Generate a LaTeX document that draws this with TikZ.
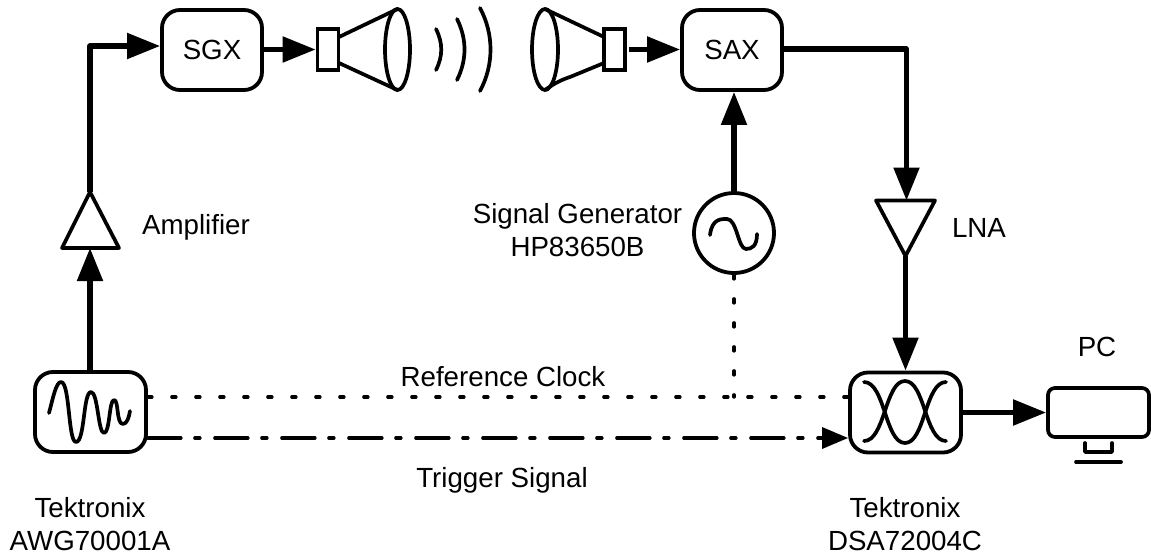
\documentclass[tikz,border=0pt]{standalone}
\usepackage{fontspec}
\setmainfont{Liberation Sans}
\usetikzlibrary{arrows.meta}
\tikzset{
  x=1pt,y=-1pt,
  lbl/.style={inner sep=0pt,align=center,font=\fontsize{27.7}{32.5}\selectfont},
  box/.style={draw,line width=3.8pt,rounded corners=18pt,minimum width=#1,minimum height=80pt,inner sep=0pt,font=\fontsize{27.7}{32}\selectfont},
  thin part/.style={line width=3.7pt,line join=round},
  conn/.style={line width=5.2pt,line join=round,-{Triangle[length=33pt,width=25pt]}},
  dotline/.style={line width=3.4pt,line cap=round,dash pattern=on 4pt off 20pt},
  dashdot/.style={line width=3.4pt,line cap=round,dash pattern=on 33pt off 14pt on 5pt off 15pt},
}
\begin{document}
\begin{tikzpicture}
\useasboundingbox (0,0) rectangle (1151,557);
% boxes
\node[box=100pt] (sgx) at (212,50) {SGX};
\node[box=100pt] (sax) at (732,50) {SAX};
\node[box=111pt] (awg) at (90.5,412) {};
\node[box=111pt] (dsa) at (905.5,412.5) {};
\node[draw,line width=3.7pt,rounded corners=7pt,minimum width=101pt,minimum height=49pt,inner sep=0pt] (pc) at (1098.5,412.5) {};
\node[draw,circle,line width=3.8pt,minimum size=80pt,inner sep=0pt] (sg) at (734,233) {};
\node[draw,line width=3.7pt,minimum width=21pt,minimum height=41pt,inner sep=0pt] (hl) at (328,49.5) {};
\node[draw,line width=3.7pt,minimum width=21pt,minimum height=41pt,inner sep=0pt] (hr) at (614.5,49.5) {};
% named points
\coordinate (ampt) at (90,192);
\coordinate (ampb) at (90,248);
\coordinate (lnat) at (905.5,200.5);
\coordinate (lnab) at (905.5,256);
\coordinate (corner1) at (90,46);
\coordinate (corner2) at (906.5,49);
\coordinate (join) at (734,397);
% amplifiers
\draw[thin part] (62,248) -- (ampt) -- (119,248) -- cycle;
\draw[thin part] (876,200.5) -- (935,200.5) -- (lnab) -- cycle;
% horns
\draw[thin part] (397.5,49.5) ellipse [x radius=12.5,y radius=40.5];
\draw[thin part] (339,37) -- (397.5,9) (339,63) -- (397.5,90);
\draw[thin part] (545,49.5) ellipse [x radius=13,y radius=40.5];
\draw[thin part] (545,9) -- (604,37);
\draw[thin part] (545,90) .. controls (556,82) and (564,79) .. (570,77) -- (604,63);
% waves
\draw[thin part,line cap=round] (436,29) .. controls (443,43) and (443,56) .. (436,70);
\draw[thin part,line cap=round] (457,19) .. controls (467,39) and (467,60) .. (457,80);
\draw[thin part,line cap=round] (480,8) .. controls (494,34) and (494,65) .. (480,91);
% sine in the generator
\draw[thin part,line cap=round] (710,235) .. controls (712,218) and (722,219) .. (727,219)
  .. controls (737,219) and (738,249) .. (746,249) .. controls (752,249) and (757,246) .. (757,234);
% waveform
\draw[thin part,line cap=round] (49,413) .. controls (53,398) and (56,382) .. (61,382)
  .. controls (70,382) and (68,442) .. (76,442) .. controls (85,442) and (83,392) .. (91,392)
  .. controls (98,392) and (98,433) .. (104,433) .. controls (110,433) and (109,400) .. (114,400)
  .. controls (119,400) and (116,424) .. (123,424) .. controls (127,424) and (129,417) .. (130,411);
% crossing curves
\draw[thin part,line cap=round] (864,441) .. controls (885,441) and (885,381) .. (905,381)
  .. controls (925,381) and (925,441) .. (946,441);
\draw[thin part,line cap=round] (864,382) .. controls (885,382) and (885,443) .. (905,443)
  .. controls (925,443) and (925,382) .. (946,382);
% PC stand
\draw[thin part,line cap=round] (1085,443) -- (1085,452) -- (1112,452) -- (1112,443);
\draw[thin part,line cap=round] (1076,462) -- (1121,462);
% connectors
\draw[conn] (ampt) -- (corner1) -- (sgx.west |- corner1);
\draw[conn] (awg.north -| ampb) -- (ampb);
\draw[conn] (sgx.east |- hl) -- (hl.west);
\draw[conn,shorten <=2pt] (hr.east) -- (sax.west |- hr);
\draw[conn] (sax.east |- corner2) -- (corner2) -- (corner2 |- lnat);
\draw[conn] (lnab) -- (dsa.north);
\draw[conn] (sg.north) -- (sax.south -| sg);
\draw[conn] (dsa.east) -- (pc.west);
\draw[dotline] (awg.east |- join) -- (dsa.west |- join);
\draw[dotline] (sg.south) -- (join);
\draw[dashdot,-{Triangle[length=26pt,width=21pt]}] (awg.east |- 0,438) -- (dsa.west |- 0,438);
% labels
\node[lbl] (tamp) at (196,227) {Amplifier};
\node[lbl] (tlna) at (979,228) {LNA};
\node[lbl] (tsg) at (577.5,230) {Signal Generator\\HP83650B};
\node[lbl] (tref) at (503,377) {Reference Clock};
\node[lbl] (ttrg) at (502,480) {Trigger Signal};
\node[lbl] (tawg) at (90,524) {Tektronix\\AWG70001A};
\node[lbl] (tdsa) at (905,524) {Tektronix\\DSA72004C};
\node[lbl] (tpc) at (1097,347) {PC};
\end{tikzpicture}
\end{document}
